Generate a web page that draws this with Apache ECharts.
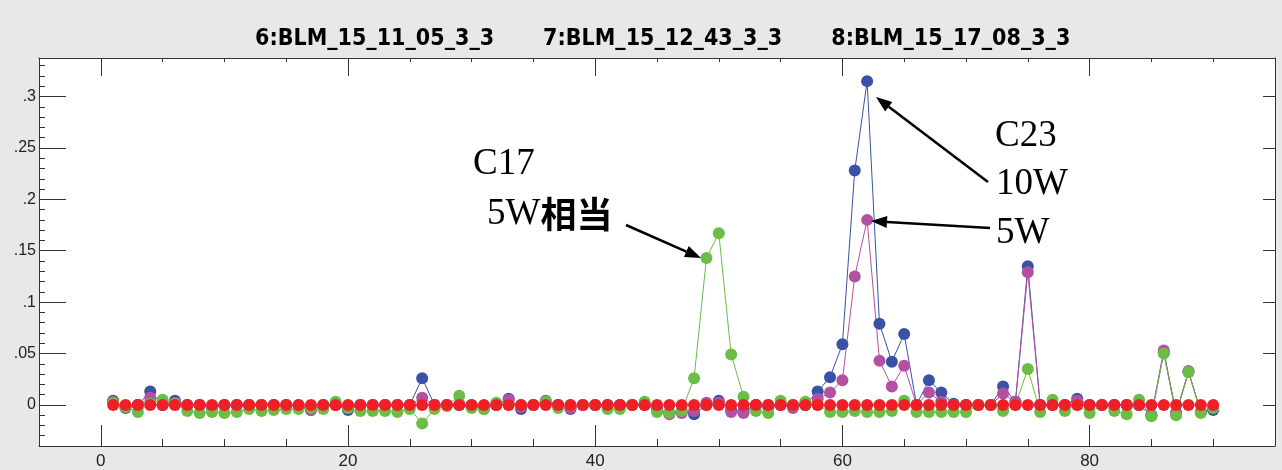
<!DOCTYPE html>
<html>
<head>
<meta charset="utf-8">
<script src="https://cdn.jsdelivr.net/npm/echarts@6/dist/echarts.min.js"></script>
<style>
html, body { margin: 0; padding: 0; background: #e8e8e8; }
#main { width: 1282px; height: 470px; }
</style>
</head>
<body>
<div id="main"></div>
<script>
// series names (legend shows 6,7,8)
const names = ['8:BLM_15_17_08_3_3', '7:BLM_15_12_43_3_3', '6:BLM_15_11_05_3_3', '5:BLM_15_10_00_3_3'];
const legendNames = ['6:BLM_15_11_05_3_3', '7:BLM_15_12_43_3_3', '8:BLM_15_17_08_3_3'];

// points 1..90
const blueData = [
  0.004, -0.003, 0, 0.013, 0, 0.004, 0, 0, -0.003, 0,
  0, 0, 0, 0, 0, -0.001, -0.005, 0, 0, -0.005,
  0, 0, 0, 0, 0, 0.026, 0, 0, 0, -0.002,
  -0.003, 0, 0.006, -0.004, 0, 0.003, 0, -0.004, 0, 0,
  0, 0, 0, 0, -0.004, -0.008, -0.006, -0.009, 0, 0.004,
  -0.005, -0.006, 0, -0.002, 0, -0.002, 0, 0.013, 0.027, 0.059,
  0.228, 0.315, 0.079, 0.042, 0.069, 0, 0.024, 0.012, 0.001, 0,
  0, 0, 0.018, 0.003, 0.135, 0, 0, 0, 0.006, 0,
  0, 0, 0, 0, -0.010, 0.051, -0.008, 0.032, -0.007, -0.005
];
const magentaData = [
  0.003, -0.002, 0, 0.007, 0, 0.002, 0, 0, -0.002, 0,
  0, 0, 0, 0, 0, 0, -0.005, 0, 0, -0.003,
  0, 0, 0, 0, 0, 0.007, 0, 0, 0, 0,
  -0.004, 0, 0.005, -0.002, 0, 0.004, 0, -0.003, 0, 0,
  0, 0, 0, 0, -0.004, -0.009, -0.008, -0.006, 0.002, 0.002,
  -0.007, -0.008, 0, 0, 0, -0.003, 0, 0.006, 0.012, 0.024,
  0.125, 0.180, 0.043, 0.018, 0.038, 0, 0.012, 0.003, 0, 0,
  0, 0, 0.011, 0.003, 0.129, 0, 0, 0, 0.004, 0,
  0, 0, 0, 0, -0.010, 0.053, -0.009, 0.033, -0.007, -0.003
];
const greenData = [
  0.002, -0.002, -0.007, 0.001, 0.005, 0.001, -0.006, -0.008, -0.007, -0.008,
  -0.007, -0.004, -0.006, -0.005, -0.004, -0.004, -0.003, -0.004, 0.003, -0.003,
  -0.006, -0.006, -0.006, -0.007, -0.004, -0.018, -0.004, -0.001, 0.009, -0.003,
  -0.004, 0.002, 0, 0, 0, 0.003, -0.003, 0, 0, 0,
  -0.004, -0.004, 0, 0.003, -0.007, -0.008, -0.006, 0.026, 0.143, 0.167,
  0.049, 0.008, -0.006, -0.008, 0.004, 0, 0.003, 0, -0.007, -0.007,
  -0.006, -0.007, -0.007, -0.006, 0.004, -0.007, -0.007, -0.007, -0.007, -0.007,
  0, 0, -0.006, 0, 0.035, -0.007, 0.005, -0.006, 0, -0.008,
  0, -0.006, -0.009, 0.005, -0.011, 0.050, -0.010, 0.032, -0.008, -0.003
];
const redData = [
  0, 0, 0, 0, 0, 0, 0, 0, 0, 0,
  0, 0, 0, 0, 0, 0, 0, 0, 0, 0,
  0, 0, 0, 0, 0, 0, 0, 0, 0, 0,
  0, 0, 0, 0, 0, 0, 0, 0, 0, 0,
  0, 0, 0, 0, 0, 0, 0, 0, 0, 0,
  0, 0, 0, 0, 0, 0, 0, 0, 0, 0,
  0, 0, 0, 0, 0, 0, 0, 0, 0, 0,
  0, 0, 0, 0, 0, 0, 0, 0, 0, 0,
  0, 0, 0, 0, 0, 0, 0, 0, 0, 0
];

const xMajor = [0, 20, 40, 60, 80];
const yMajor = [0, 0.05, 0.1, 0.15, 0.2, 0.25, 0.3];
const colors = ['#3a52a6', '#b450a0', '#6cbd45', '#ee1f26'];

function toPairs(arr) {
  return arr.map((v, i) => [i + 1, v]);
}

function yLabel(v) {
  if (v === 0) return '0';
  return String(+v.toFixed(2)).replace(/^0/, '');
}

// arrow = line + filled head
function arrow(x1, y1, x2, y2) {
  const ang = Math.atan2(y2 - y1, x2 - x1);
  const len = 16, w = 6;
  const bx = x2 - len * Math.cos(ang), by = y2 - len * Math.sin(ang);
  const px = -Math.sin(ang) * w, py = Math.cos(ang) * w;
  return [
    { type: 'line', shape: { x1: x1, y1: y1, x2: bx, y2: by }, style: { stroke: '#000', lineWidth: 2.5 }, z: 100 },
    { type: 'polygon', shape: { points: [[x2, y2], [bx + px, by + py], [bx - px, by - py]] }, style: { fill: '#000' }, z: 100 }
  ];
}

const serifFont = '"Liberation Serif", serif';
function note(x, y, text) {
  return { type: 'text', x: x, y: y, z: 100,
    style: { text: text, font: '37px ' + serifFont, fill: '#000', textVerticalAlign: 'middle' } };
}

const chart = echarts.init(document.getElementById('main'));

const lineSeries = [blueData, magentaData, greenData, redData].map((d, i) => ({
  name: names[i],
  type: 'line',
  data: toPairs(d),
  symbol: 'circle',
  symbolSize: 12,
  showSymbol: true,
  color: colors[i],
  lineStyle: { width: 1, color: colors[i] },
  itemStyle: { color: colors[i] },
  emphasis: { disabled: true },
  animation: false
}));

const axisCol = '#333';

const option = {
  backgroundColor: '#e8e8e8',
  animation: false,
  legend: {
    data: legendNames,
    top: 23,
    left: 245,
    icon: 'rect',
    itemWidth: 0,
    itemHeight: 0,
    itemGap: 44,
    textStyle: { color: '#000', fontSize: 23, fontWeight: 'bold', fontFamily: '"DejaVu Sans Condensed", sans-serif' },
    selectedMode: false
  },
  grid: {
    left: 39, right: 7, top: 58, bottom: 18,
    show: true, backgroundColor: '#fff', borderWidth: 0
  },
  xAxis: [
    { type: 'value', position: 'bottom', min: -5, max: 95, interval: 5,
      axisLine: { onZero: false, lineStyle: { color: axisCol } },
      axisTick: { inside: true, length: 7, lineStyle: { color: axisCol } },
      axisLabel: { show: false }, splitLine: { show: false } },
    { type: 'value', position: 'bottom', min: -5, max: 95,
      axisLine: { show: false, onZero: false },
      axisTick: { inside: true, length: 21, customValues: xMajor, lineStyle: { color: axisCol } },
      axisLabel: { customValues: xMajor, margin: 7, color: '#222', fontSize: 17, fontFamily: '"Liberation Sans", sans-serif' },
      splitLine: { show: false } },
    { type: 'value', position: 'top', min: -5, max: 95, interval: 5,
      axisLine: { onZero: false, lineStyle: { color: axisCol } },
      axisTick: { inside: true, length: 4, lineStyle: { color: axisCol } },
      axisLabel: { show: false }, splitLine: { show: false } },
    { type: 'value', position: 'top', min: -5, max: 95,
      axisLine: { show: false, onZero: false },
      axisTick: { inside: true, length: 18, customValues: xMajor, lineStyle: { color: axisCol } },
      axisLabel: { show: false }, splitLine: { show: false } }
  ],
  yAxis: [
    { type: 'value', position: 'left', min: -0.04, max: 0.3375, interval: 0.01,
      axisLine: { show: true, onZero: false, lineStyle: { color: axisCol } },
      axisTick: { show: true, inside: true, length: 6, lineStyle: { color: axisCol } },
      axisLabel: { show: false }, splitLine: { show: false } },
    { type: 'value', position: 'left', min: -0.04, max: 0.3375,
      axisLine: { show: false, onZero: false },
      axisTick: { show: true, inside: true, length: 27, customValues: yMajor, lineStyle: { color: axisCol } },
      axisLabel: { customValues: yMajor, formatter: yLabel, margin: 3, color: '#222', fontSize: 16, fontFamily: '"Liberation Sans", sans-serif' },
      splitLine: { show: false } },
    { type: 'value', position: 'right', min: -0.04, max: 0.3375,
      axisLine: { show: true, onZero: false, lineStyle: { color: axisCol } },
      axisTick: { show: true, inside: true, length: 12, customValues: yMajor, lineStyle: { color: axisCol } },
      axisLabel: { show: false }, splitLine: { show: false } }
  ],
  series: lineSeries,
  graphic: [
    note(473, 164, 'C17'),
    {
      type: 'text', x: 487, y: 214, z: 100,
      style: {
        text: '{a|5W}{b|相当}',
        textVerticalAlign: 'middle',
        rich: {
          a: { font: '37px ' + serifFont, fill: '#000' },
          b: { font: 'bold 36px "Noto Sans CJK SC", sans-serif', fill: '#000' }
        }
      }
    },
    note(995, 136, 'C23'),
    note(996, 184, '10W'),
    note(996, 233, '5W')
  ].concat(arrow(626, 225, 701, 258), arrow(988, 182, 876, 97), arrow(990, 228, 871, 221))
};

chart.setOption(option);
</script>
</body>
</html>
